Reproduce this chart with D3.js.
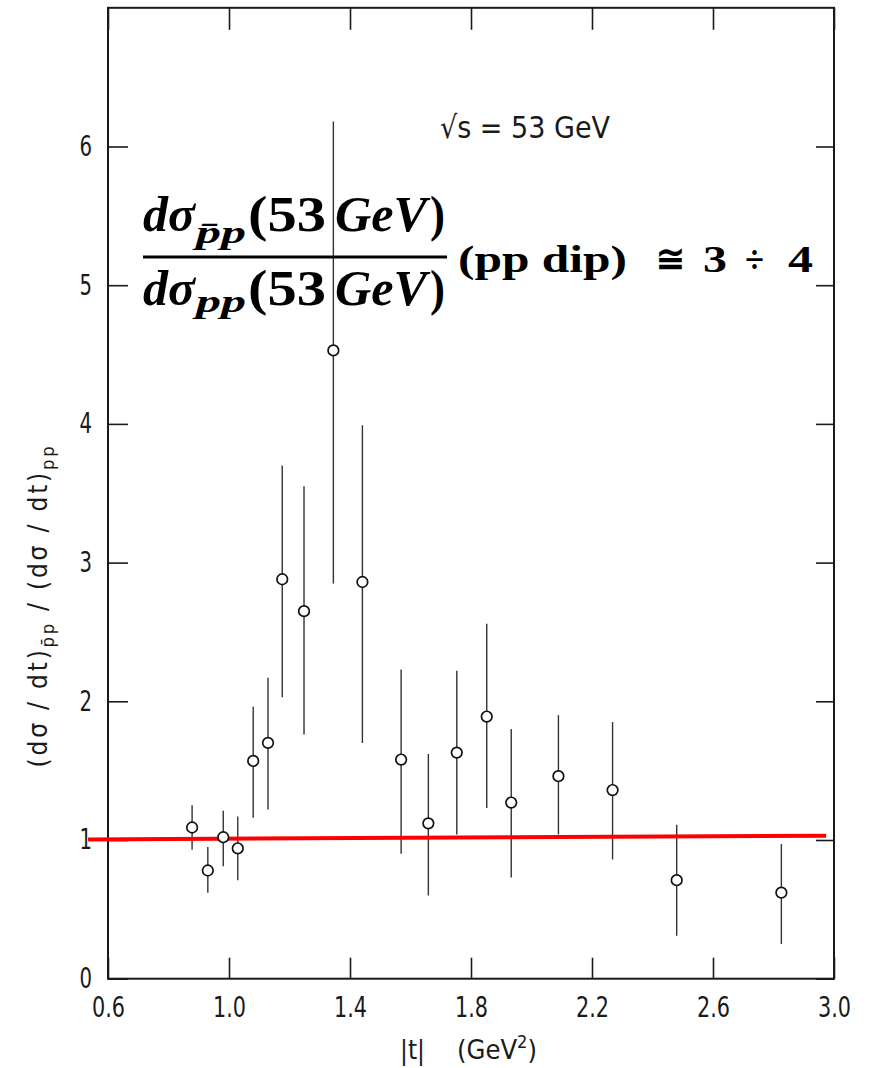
<!DOCTYPE html>
<meta charset="utf-8">

<head>
  <script src="https://d3js.org/d3.v7.min.js"></script>
  <style>
    body { margin: 0; background: #fff; }
    .tick text { font-family: "DejaVu Sans Condensed", "DejaVu Sans", sans-serif; font-size: 28px; fill: #1a1a1a; }
    .tick line { stroke: #1a1a1a; stroke-width: 1.6px; }
    .lbl { font-family: "DejaVu Sans Condensed", "DejaVu Sans", sans-serif; fill: #1a1a1a; }
    .math { font-family: "Liberation Serif", "DejaVu Serif", serif; font-weight: bold; fill: #000; }
  </style>
</head>

<body>
  <div id="viz"></div>

  <script>
    // |t| values (GeV^2) of the measured points
    var tVals = [0.878, 0.930, 0.981, 1.029, 1.080, 1.129, 1.176, 1.248, 1.345, 1.441,
                 1.569, 1.659, 1.753, 1.852, 1.933, 2.089, 2.268, 2.480, 2.826];
    // ratio pbar-p / pp
    var ratio = [1.09, 0.78, 1.02, 0.94, 1.57, 1.70, 2.88, 2.65, 4.53, 2.86,
                 1.58, 1.12, 1.63, 1.89, 1.27, 1.46, 1.36, 0.71, 0.62];
    // lower and upper ends of the error bars
    var errLow = [0.93, 0.62, 0.81, 0.71, 1.16, 1.22, 2.03, 1.76, 2.85, 1.70,
                  0.90, 0.60, 1.04, 1.23, 0.73, 1.04, 0.86, 0.31, 0.25];
    var errHigh = [1.25, 0.95, 1.21, 1.17, 1.96, 2.17, 3.70, 3.55, 6.18, 3.99,
                   2.23, 1.62, 2.22, 2.56, 1.80, 1.90, 1.85, 1.11, 0.97];
    // hand-drawn red reference line (t, ratio) at both ends
    var refLine = [[0.534, 1.004], [2.974, 1.031]];
    // tick values
    var xTicks = [0.6, 1.0, 1.4, 1.8, 2.2, 2.6, 3.0];
    var yTicks = [0, 1, 2, 3, 4, 5, 6];

    var config = { width: 869, height: 1068 };

    var svg = d3.select("#viz").append("svg")
      .attr("width", config.width)
      .attr("height", config.height);

    var x = d3.scaleLinear().domain([0.6, 3.0]).range([108, 834]);
    var y = d3.scaleLinear().domain([0, 7]).range([978.7, 7.8]);

    // narrow the tick labels to the look of the old plotter font
    function squeeze(s) {
      return s.replace(/[^.]/g, "").length * 8 + s.replace(/\./g, "").length * 12.5;
    }

    // frame
    svg.append("rect")
      .attr("x", x(0.6)).attr("y", y(7))
      .attr("width", x(3.0) - x(0.6)).attr("height", y(0) - y(7))
      .attr("fill", "none").attr("stroke", "#1a1a1a").attr("stroke-width", 2);

    // axes, ticks pointing inward
    svg.append("g")
      .attr("transform", "translate(0," + y(0) + ")")
      .call(d3.axisBottom(x).tickValues(xTicks).tickSize(-21).tickPadding(18)
        .tickFormat(d3.format(".1f")))
      .call(function(g) { g.select(".domain").remove(); })
      .selectAll(".tick text")
      .attr("textLength", function() { return squeeze(this.textContent); })
      .attr("lengthAdjust", "spacingAndGlyphs");

    svg.append("g")
      .attr("transform", "translate(0," + y(7) + ")")
      .call(d3.axisTop(x).tickValues(xTicks).tickSize(-22).tickFormat(""))
      .call(function(g) { g.select(".domain").remove(); });

    svg.append("g")
      .attr("transform", "translate(" + x(0.6) + ",0)")
      .call(d3.axisLeft(y).tickValues(yTicks).tickSize(-20).tickPadding(16)
        .tickFormat(d3.format("d")))
      .call(function(g) { g.select(".domain").remove(); })
      .selectAll(".tick text")
      .attr("font-size", 29)
      .attr("textLength", function() { return squeeze(this.textContent); })
      .attr("lengthAdjust", "spacingAndGlyphs");

    svg.append("g")
      .attr("transform", "translate(" + x(3.0) + ",0)")
      .call(d3.axisRight(y).tickValues(yTicks).tickSize(-18).tickFormat(""))
      .call(function(g) { g.select(".domain").remove(); });

    // axis titles
    svg.append("text").attr("class", "lbl")
      .attr("x", 400).attr("y", 1059).attr("font-size", 27)
      .attr("textLength", 25).attr("lengthAdjust", "spacingAndGlyphs")
      .text("|t|");
    var xt = svg.append("text").attr("class", "lbl")
      .attr("x", 457).attr("y", 1059).attr("font-size", 27)
      .attr("textLength", 80).attr("lengthAdjust", "spacingAndGlyphs");
    xt.append("tspan").text("(GeV");
    xt.append("tspan").attr("dy", -11).attr("font-size", 18).text("2");
    xt.append("tspan").attr("dy", 11).text(")");

    var yt = svg.append("text").attr("class", "lbl")
      .attr("transform", "translate(47,607) rotate(-90)")
      .attr("text-anchor", "middle").attr("font-size", 26)
      .attr("textLength", 321);
    yt.append("tspan").text("(dσ / dt)");
    yt.append("tspan").attr("dy", 7).attr("font-size", 18).text("p\u0304p");
    yt.append("tspan").attr("dy", -7).text("   /   (dσ / dt)");
    yt.append("tspan").attr("dy", 7).attr("font-size", 18).text("pp");

    svg.append("text").attr("class", "lbl")
      .attr("x", 440).attr("y", 138).attr("font-size", 31)
      .attr("textLength", 170).attr("lengthAdjust", "spacingAndGlyphs")
      .text("√s  =  53 GeV");

    // error bars
    svg.selectAll(".err")
      .data(tVals)
      .enter().append("line")
      .attr("class", "err")
      .attr("x1", function(d) { return x(d); })
      .attr("x2", function(d) { return x(d); })
      .attr("y1", function(d, i) { return y(errLow[i]); })
      .attr("y2", function(d, i) { return y(errHigh[i]); })
      .attr("stroke", "#333").attr("stroke-width", 1.4);

    // red reference line
    svg.append("line")
      .attr("x1", x(refLine[0][0])).attr("y1", y(refLine[0][1]))
      .attr("x2", x(refLine[1][0])).attr("y2", y(refLine[1][1]))
      .attr("stroke", "#ff0000").attr("stroke-width", 4);

    // open circles
    svg.selectAll(".pt")
      .data(tVals)
      .enter().append("circle")
      .attr("class", "pt")
      .attr("cx", function(d) { return x(d); })
      .attr("cy", function(d, i) { return y(ratio[i]); })
      .attr("r", 5.3)
      .attr("fill", "#fff").attr("stroke", "#111").attr("stroke-width", 1.7);

    // annotation: the ratio formula, each piece stretched to the original width
    function piece(txt, px, py, w, size, italic) {
      return svg.append("text").attr("class", "math")
        .attr("x", px).attr("y", py)
        .attr("font-size", size)
        .attr("font-style", italic ? "italic" : "normal")
        .attr("textLength", w).attr("lengthAdjust", "spacingAndGlyphs")
        .text(txt);
    }

    piece("dσ", 143, 231, 52, 50, true);
    piece("p\u0304p", 196, 243, 50, 32, true);
    piece("(53", 248, 231, 78, 50, false);
    piece("GeV", 335, 231, 92, 50, true);
    piece(")", 430, 231, 15, 50, false);

    svg.append("line")
      .attr("x1", 143).attr("x2", 447).attr("y1", 257).attr("y2", 257)
      .attr("stroke", "#000").attr("stroke-width", 3);

    piece("dσ", 143, 305, 52, 50, true);
    piece("pp", 196, 312, 50, 32, true);
    piece("(53", 248, 305, 78, 50, false);
    piece("GeV", 335, 305, 92, 50, true);
    piece(")", 430, 305, 15, 50, false);

    piece("(pp dip)", 458, 272, 169, 38, false);
    piece("≅", 656, 272, 29, 38, false);
    piece("3", 703, 272, 24, 38, false);
    piece("÷", 745, 272, 19, 38, false);
    piece("4", 788, 272, 25, 38, false);
  </script>
</body>
